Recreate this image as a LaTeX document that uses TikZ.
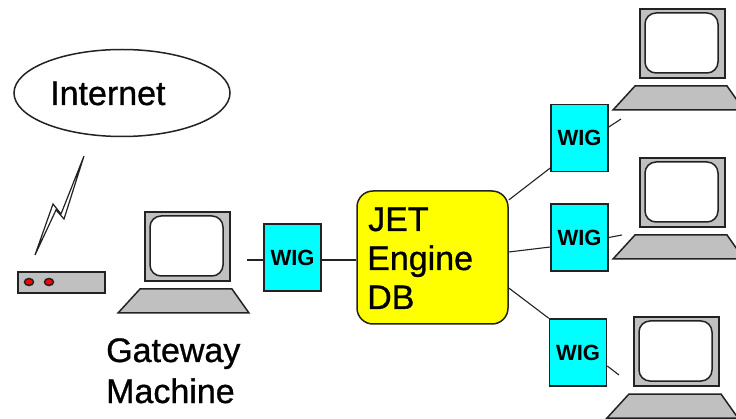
\documentclass[tikz,border=0pt]{standalone}
\usepackage{fontspec}
\setmainfont{Liberation Sans}
\usetikzlibrary{shapes.geometric}
\definecolor{wincyan}{HTML}{00FFFF}
\definecolor{winyellow}{HTML}{FFFF00}
\definecolor{wingray}{HTML}{C0C0C0}
\definecolor{winline}{HTML}{222222}
\newfontfamily\bigface[FakeBold=0.9]{Liberation Sans}
\tikzset{
  ln/.style={draw=winline,line width=1.5pt},
  wire/.style={draw=winline,line width=1.1pt},
  wigbox/.style={ln,fill=wincyan,rectangle,inner sep=0pt,minimum width=57pt,minimum height=67pt,
    font=\fontsize{22}{22}\selectfont\bfseries},
  bigtext/.style={inner sep=0pt,anchor=base west,font=\fontsize{34}{34}\selectfont\bigface},
  monitor/.pic={
    \path[ln,fill=wingray] (-5,77) -- (87,77) -- (104,101) -- (-27,101) -- cycle;
    \path[ln,fill=wingray,line width=1.8pt] (0,0) rectangle (85,69);
    \path[ln,fill=white,rounded corners=11pt] (5,4) rectangle (78,64);
  }
}
\begin{document}
\begin{tikzpicture}[x=1pt,y=-1pt]
\useasboundingbox (0,0) rectangle (736,419);
% Internet cloud and radio link
\node[ln,fill=white,ellipse,inner sep=0pt,minimum width=216pt,minimum height=87pt] (cloud) at (122,93) {};
\node[bigtext] (inet) at (50,105) {Internet};
\path[draw=winline,line width=1.2pt,fill=white] (84,156) -- (64,219) -- (56,210) -- (35,255) -- (53,204) -- (61,214) -- cycle;
% Router
\node[ln,fill=wingray,rectangle,inner sep=0pt,minimum width=87pt,minimum height=21pt] (router) at (61.5,282.5) {};
\node[ln,fill=red,ellipse,inner sep=0pt,minimum width=9pt,minimum height=7pt] (led1) at (29,282) {};
\node[ln,fill=red,ellipse,inner sep=0pt,minimum width=9pt,minimum height=7pt] (led2) at (49,282) {};
% Computers
\pic at (145,212) {monitor};
\pic at (640,9) {monitor};
\pic at (640,158) {monitor};
\pic at (634,317) {monitor};
% Free connector ends beside the computers
\coordinate (pcgate) at (247,260);
\coordinate (pctop) at (621,119);
\coordinate (pcmid) at (622,235);
\coordinate (pcbot) at (619,375);
% Database
\node[ln,fill=winyellow,rectangle,rounded corners=16pt,inner sep=0pt,minimum width=151pt,minimum height=133pt] (jet) at (432.5,257.5) {};
\node[bigtext] (t1) at (368,231) {JET};
\node[bigtext] (t2) at (367,270) {Engine};
\node[bigtext] (t3) at (367,309) {DB};
% WIG boxes
\node[wigbox] (wiggate) at (292.5,257.5) {WIG};
\node[wigbox] (wigtop) at (579.5,138) {WIG};
\node[wigbox] (wigmid) at (579.5,237.5) {WIG};
\node[wigbox] (wigbot) at (578,352.5) {WIG};
% Connectors
\draw[wire] (pcgate) -- (wiggate.west |- pcgate);
\draw[wire] (wiggate.east |- pcgate) -- (jet.west |- pcgate);
\draw[wire] ([yshift=57.5pt]jet.east) -- ([yshift=-30pt]wigtop.west);
\draw[wire] ([yshift=11pt]wigtop.east) -- (pctop);
\draw[wire] ([yshift=5.5pt]jet.east) -- ([yshift=-9.5pt]wigmid.west);
\draw[wire] (wigmid.east) -- (pcmid);
\draw[wire] ([yshift=-30.5pt]jet.east) -- (wigbot.north west);
\draw[wire] ([yshift=-13.5pt]wigbot.east) -- (pcbot);
% Caption
\node[bigtext] (cap1) at (106,362) {Gateway};
\node[bigtext] (cap2) at (106,403) {Machine};
\end{tikzpicture}
\end{document}
